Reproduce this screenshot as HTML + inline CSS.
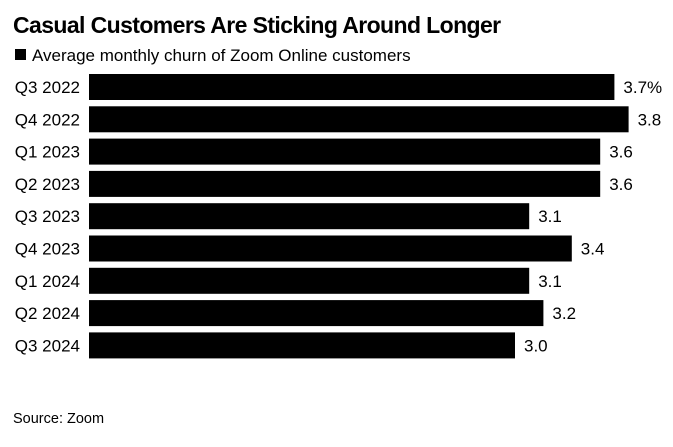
<!DOCTYPE html>
<html><head><meta charset="utf-8"><style>
body{margin:0;background:#fff;font-family:"Liberation Sans",sans-serif;}
svg{display:block}
</style></head><body>
<svg width="673" height="447">
<text x="13" y="33" font-size="23" font-weight="bold" fill="#000" letter-spacing="-0.6">Casual Customers Are Sticking Around Longer</text>
<rect x="15" y="49" width="11" height="11" fill="#000"/>
<text x="32" y="61" font-size="17" fill="#000">Average monthly churn of Zoom Online customers</text>
<g id="bars"></g>
<text x="13" y="423" font-size="14.5" fill="#000">Source: Zoom</text>
</svg>
<script>
const categories=["Q3 2022","Q4 2022","Q1 2023","Q2 2023","Q3 2023","Q4 2023","Q1 2024","Q2 2024","Q3 2024"];
const values=[3.7,3.8,3.6,3.6,3.1,3.4,3.1,3.2,3.0];
const valueLabels=["3.7%","3.8","3.6","3.6","3.1","3.4","3.1","3.2","3.0"];
const x0=89,k=142,top0=74,step=32.3,bh=26;
const xs=v=>x0+v*k;
const g=document.getElementById('bars');
const ns="http://www.w3.org/2000/svg";
categories.forEach((c,i)=>{
  const y=top0+i*step;
  const r=document.createElementNS(ns,'rect');
  
  
  r.setAttribute('x',x0);r.setAttribute('y',y);r.setAttribute('width',xs(values[i])-x0);r.setAttribute('height',bh);r.setAttribute('fill','#000');
  g.appendChild(r);
  const t=document.createElementNS(ns,'text');
  
  
  t.setAttribute('x',80);t.setAttribute('y',y+bh/2+6);t.setAttribute('text-anchor','end');t.setAttribute('font-size','17');
  t.textContent=c;g.appendChild(t);
  const v=document.createElementNS(ns,'text');
  
  
  v.setAttribute('x',xs(values[i])+9);v.setAttribute('y',y+bh/2+6);v.setAttribute('font-size','17');
  v.textContent=valueLabels[i];g.appendChild(v);
});
</script>
</body></html>
